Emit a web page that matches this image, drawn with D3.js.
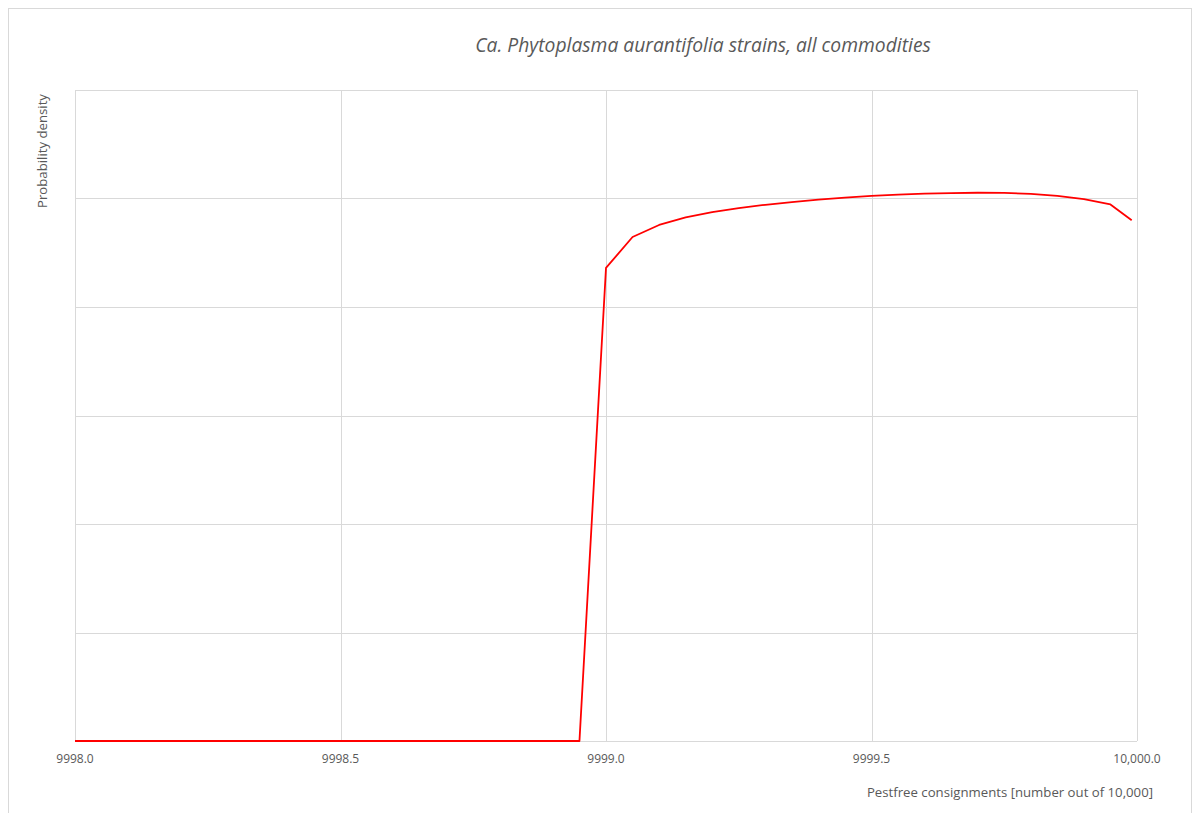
<!DOCTYPE html>
<html>
<head>
<meta charset="utf-8">
<script src="https://cdn.jsdelivr.net/npm/d3@7"></script>
<style>
  body { margin: 0; background: #fff; }
  svg text { font-family: "Open Sans", "Liberation Sans", sans-serif; fill: #595959; }
</style>
</head>
<body>
<svg id="chart" width="1200" height="813"></svg>
<script>
// Data (y in arbitrary density units; the chart shows no y tick labels)
const xValues = [9998.0, 9998.95, 9999.0, 9999.05, 9999.1, 9999.15, 9999.2, 9999.25, 9999.3, 9999.35,
                 9999.4, 9999.45, 9999.5, 9999.55, 9999.6, 9999.65, 9999.7, 9999.75, 9999.8, 9999.85,
                 9999.9, 9999.95, 9999.99];
const densityValues = [0, 0, 4.36, 4.645, 4.756, 4.825, 4.874, 4.911, 4.942, 4.967,
                       4.99, 5.008, 5.024, 5.036, 5.045, 5.05, 5.053, 5.051, 5.043, 5.024,
                       4.995, 4.945, 4.8];
const xTicks = [9998.0, 9998.5, 9999.0, 9999.5, 10000.0];
const yTicks = [0, 1, 2, 3, 4, 5, 6];
const title = "Ca. Phytoplasma aurantifolia strains, all commodities";
const xTitle = "Pestfree consignments [number out of 10,000]";
const yTitle = "Probability density";

const svg = d3.select("#chart");
const margin = { left: 75, right: 63, top: 90, bottom: 72 };
const W = 1200, H = 813;

// outer chart border
svg.append("rect").attr("x", 8.5).attr("y", 8.5).attr("width", 1183).attr("height", 812)
  .attr("fill", "none").attr("stroke", "#d9d9d9");

const x = d3.scaleLinear().domain([9998, 10000]).range([margin.left, W - margin.right]);
const y = d3.scaleLinear().domain([0, 6]).range([H - margin.bottom, margin.top]);

// gridlines
svg.append("g").selectAll("line.h").data(yTicks).join("line")
  .attr("x1", x(9998)).attr("x2", x(10000))
  .attr("y1", d => Math.round(y(d)) + 0.5).attr("y2", d => Math.round(y(d)) + 0.5)
  .attr("stroke", "#d9d9d9").attr("stroke-width", 1);
svg.append("g").selectAll("line.v").data(xTicks).join("line")
  .attr("x1", d => Math.round(x(d)) + 0.5).attr("x2", d => Math.round(x(d)) + 0.5)
  .attr("y1", y(6)).attr("y2", y(0))
  .attr("stroke", "#d9d9d9").attr("stroke-width", 1);

// x axis tick labels
const fmt = d => d >= 10000 ? d3.format(",.1f")(d) : d3.format(".1f")(d);
svg.append("g").selectAll("text").data(xTicks).join("text")
  .attr("x", d => x(d)).attr("y", y(0) + 22)
  .attr("text-anchor", "middle").attr("font-size", 12)
  .text(fmt);

// line
const line = d3.line().x((d, i) => x(xValues[i])).y(d => y(d));
svg.append("path").datum(densityValues)
  .attr("d", line).attr("fill", "none")
  .attr("stroke", "#ff0000").attr("stroke-width", 1.8).attr("stroke-linejoin", "round");

// titles
svg.append("text").attr("x", 703).attr("y", 52).attr("text-anchor", "middle")
  .attr("font-size", 19.3).attr("font-style", "italic").text(title);
svg.append("text").attr("x", 1153).attr("y", 797).attr("text-anchor", "end")
  .attr("font-size", 13.2).text(xTitle);
svg.append("text").attr("transform", "translate(47,151) rotate(-90)")
  .attr("text-anchor", "middle").attr("font-size", 13.2).text(yTitle);
</script>
</body>
</html>
